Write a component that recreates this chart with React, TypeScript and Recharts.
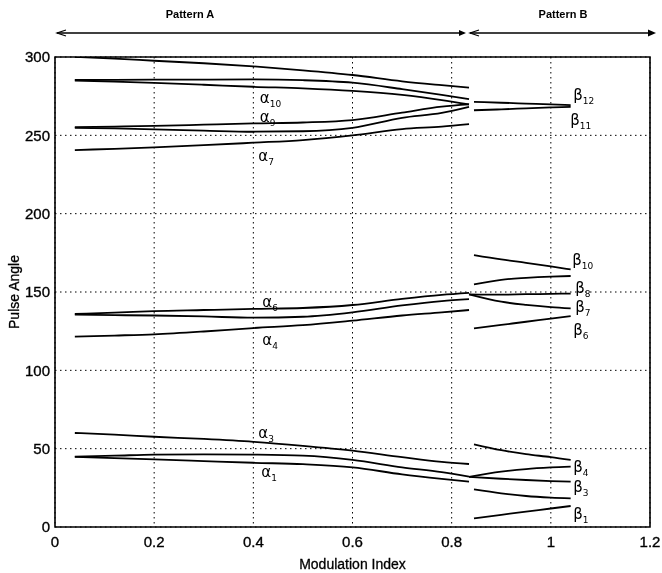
import { LineChart, Line, XAxis, YAxis, CartesianGrid, ReferenceArea, ReferenceDot, Customized } from "recharts"

// Pattern A: modulation index samples and pulse angles (deg)
const xA = [0.04, 0.12, 0.2, 0.3, 0.4, 0.5, 0.6, 0.7, 0.78, 0.835]
const alpha1 = [44.8, 44, 43.2, 42.1, 41, 40.1, 38.1, 33.6, 30.7, 28.9]
const alpha2 = [44.9, 45.5, 46.2, 46.4, 46.2, 45.5, 42.8, 38.1, 35, 32.1]
const alpha3 = [60, 59, 57.6, 56.2, 54.4, 51.8, 48.7, 44.6, 41.6, 40.2]
const alpha4 = [121.5, 122.2, 123, 124.8, 127, 128.8, 131.7, 135, 137, 138.5]
const alpha5 = [135.5, 135.2, 135, 134.4, 133.6, 134.2, 137, 141.4, 144.2, 145.5]
const alpha6 = [136, 136.8, 137.8, 138.5, 139.2, 139.8, 141.7, 145.6, 148.2, 149.5]
const alpha7 = [240.6, 241.4, 242.3, 243.7, 245.3, 247, 250, 254, 255.6, 257.2]
const alpha8 = [254.8, 254.4, 253.8, 253, 252.3, 252.6, 254.8, 261.2, 264.3, 268.2]
const alpha9 = [255.2, 255.6, 256, 256.8, 257.6, 258.2, 259.7, 264.5, 268.3, 269.7]
const alpha10 = [285, 284.3, 283.5, 282.3, 281, 280, 278.4, 275.8, 272.5, 269.7]
const alpha11 = [285.4, 285.4, 285.5, 285.6, 285.7, 285.2, 283.6, 279.5, 275.8, 273.1]
const alpha12 = [300, 299, 297.6, 296, 294, 291.5, 288.5, 284.5, 282, 280.4]

// Pattern B: lines that continue from pattern A start a bit earlier
const xBJoin = [0.835, 0.9, 0.95, 1.0, 1.04]
const xBGap = [0.845, 0.9, 0.95, 1.0, 1.04]
const beta1 = [5.5, 7.8, 9.8, 11.8, 13.4]
const beta2 = [24, 21.5, 19.8, 18.8, 18.3]
const beta3 = [32, 30.8, 30, 29.3, 28.9]
const beta4 = [32, 35.3, 37, 38, 38.5]
const beta5 = [52.8, 49, 46.5, 44.6, 42.8]
const beta6 = [126.8, 129, 131, 133, 134.6]
const beta7 = [148.5, 143.8, 141.8, 140.4, 139.6]
const beta8 = [148.5, 148.3, 148.6, 148.8, 149]
const beta9 = [154.9, 157.8, 159, 159.8, 160.2]
const beta10 = [173.6, 170.8, 168.6, 166.3, 164.4]
const beta11 = [266, 266.6, 267.2, 267.8, 268.2]
const beta12 = [271.4, 270.8, 270.3, 269.8, 269.3]

const xTicks = [0, 0.2, 0.4, 0.6, 0.8, 1, 1.2]
const yTicks = [0, 50, 100, 150, 200, 250, 300]

// curve annotations, in data coordinates
const labels = [
  { sym: "α", sub: "10", x: 0.413, y: 274 },
  { sym: "α", sub: "9", x: 0.413, y: 262 },
  { sym: "α", sub: "7", x: 0.41, y: 237 },
  { sym: "α", sub: "6", x: 0.418, y: 143.5 },
  { sym: "α", sub: "4", x: 0.418, y: 119.5 },
  { sym: "α", sub: "3", x: 0.41, y: 60 },
  { sym: "α", sub: "1", x: 0.416, y: 35 },
  { sym: "β", sub: "12", x: 1.045, y: 275.5 },
  { sym: "β", sub: "11", x: 1.039, y: 259.5 },
  { sym: "β", sub: "10", x: 1.043, y: 170.5 },
  { sym: "β", sub: "8", x: 1.049, y: 152.5 },
  { sym: "β", sub: "7", x: 1.049, y: 140.5 },
  { sym: "β", sub: "6", x: 1.045, y: 125.5 },
  { sym: "β", sub: "4", x: 1.045, y: 38.3 },
  { sym: "β", sub: "3", x: 1.045, y: 25.5 },
  { sym: "β", sub: "1", x: 1.045, y: 8.3 },
]

const zip = (xs: number[], ys: number[]) => xs.map((x, i) => ({ x, y: ys[i] }))

const series = [
  zip(xA, alpha1), zip(xA, alpha2), zip(xA, alpha3), zip(xA, alpha4),
  zip(xA, alpha5), zip(xA, alpha6), zip(xA, alpha7), zip(xA, alpha8),
  zip(xA, alpha9), zip(xA, alpha10), zip(xA, alpha11), zip(xA, alpha12),
  zip(xBGap, beta1), zip(xBGap, beta2), zip(xBJoin, beta3), zip(xBJoin, beta4),
  zip(xBGap, beta5), zip(xBGap, beta6), zip(xBJoin, beta7), zip(xBJoin, beta8),
  zip(xBGap, beta9), zip(xBGap, beta10), zip(xBGap, beta11), zip(xBGap, beta12),
]

const FONT = "'Liberation Sans', Arial, sans-serif"
const tickStyle = { fill: "#000", stroke: "#000", strokeWidth: 0.35, fontSize: 15, fontFamily: FONT }

// header arrows above the plot (page pixels, chart is pinned at 0,0)
const PatternArrows = () => (
  <g>
    <text x={190} y={18} textAnchor="middle" fontFamily={FONT} fontWeight="bold" fontSize={11} fill="#000">
      Pattern A
    </text>
    <text x={563} y={18} textAnchor="middle" fontFamily={FONT} fontWeight="bold" fontSize={11} fill="#000">
      Pattern B
    </text>
    <line x1={57} y1={33} x2={464} y2={33} stroke="#000" strokeWidth={1.4} />
    <polyline points="66,30 57,33 66,36" fill="none" stroke="#000" strokeWidth={1.2} />
    <polygon points="466,33 459,30 459,36" fill="#000" />
    <line x1={470} y1={33} x2={653} y2={33} stroke="#000" strokeWidth={1.4} />
    <polyline points="479,30 470,33 479,36" fill="none" stroke="#000" strokeWidth={1.2} />
    <polygon points="656,33 648,29.5 648,36.5" fill="#000" />
  </g>
)

const GreekLabel = (props: any) => {
  const { cx, cy, sym, sub } = props
  return (
    <text x={cx} y={cy + 5} fontFamily="'DejaVu Sans', sans-serif" fontSize={15} fill="#000">
      {sym}
      <tspan fontSize={9} dy={4}>{sub}</tspan>
    </text>
  )
}

export default function App() {
  return (
    <div style={{ position: "fixed", left: 0, top: 0, width: 662, height: 573 }}>
      <LineChart width={662} height={573} margin={{ top: 57, right: 12, left: 0, bottom: 0 }}>
        <CartesianGrid stroke="#000" strokeDasharray="1.5 3.5" strokeWidth={1} />
        <XAxis
          type="number"
          dataKey="x"
          domain={[0, 1.2]}
          ticks={xTicks}
          height={46}
          tickSize={0}
          tickMargin={9}
          axisLine={false}
          tick={tickStyle}
          label={{ value: "Modulation Index", position: "insideBottom", offset: 4, fill: "#000", stroke: "#000", strokeWidth: 0.3, fontSize: 14, fontFamily: FONT }}
          allowDataOverflow
        />
        <YAxis
          type="number"
          domain={[0, 300]}
          ticks={yTicks}
          width={55}
          tickSize={0}
          tickMargin={5}
          axisLine={false}
          tick={tickStyle}
          label={{ value: "Pulse Angle", angle: -90, position: "insideLeft", offset: 14, fill: "#000", stroke: "#000", strokeWidth: 0.3, fontSize: 14, fontFamily: FONT, style: { textAnchor: "middle" } }}
          allowDataOverflow
        />
        <ReferenceArea x1={0} x2={1.2} y1={0} y2={300} fill="none" stroke="#000" strokeWidth={1.6} />
        {series.map((data, i) => (
          <Line
            key={i}
            data={data}
            dataKey="y"
            type="monotone"
            stroke="#000"
            strokeWidth={1.8}
            dot={false}
            activeDot={false}
            isAnimationActive={false}
          />
        ))}
        {labels.map((l, i) => (
          <ReferenceDot
            key={"l" + i}
            x={l.x}
            y={l.y}
            r={0}
            shape={(p: any) => <GreekLabel cx={p.cx} cy={p.cy} sym={l.sym} sub={l.sub} />}
          />
        ))}
        <Customized component={PatternArrows} />
      </LineChart>
    </div>
  )
}
